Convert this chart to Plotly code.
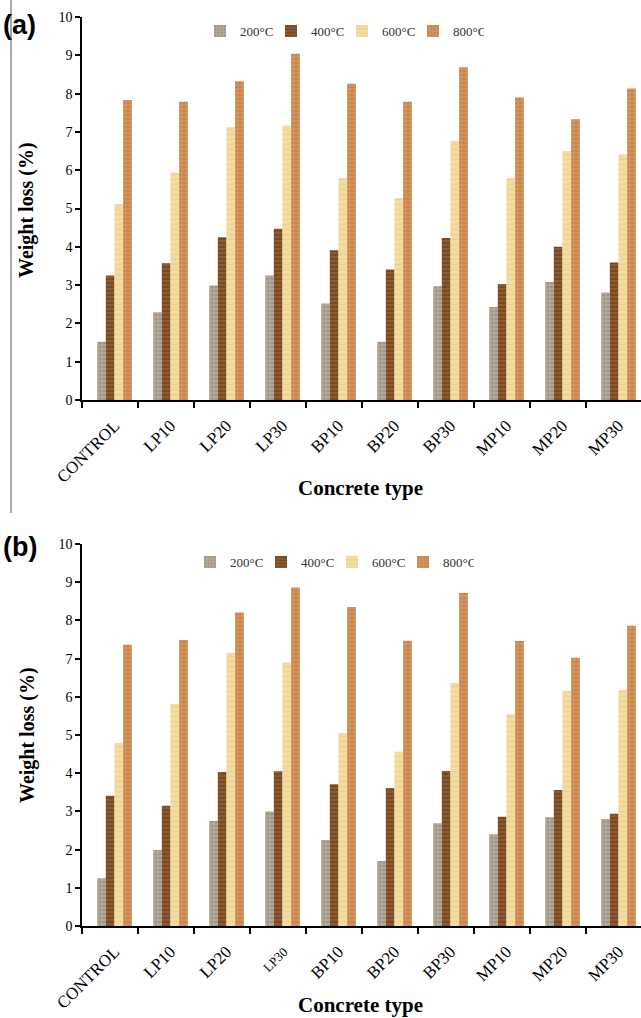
import plotly.graph_objects as go

categories = ["CONTROL", "LP10", "LP20", "LP30", "BP10", "BP20", "BP30", "MP10", "MP20", "MP30"]
temps = ["200°C", "400°C", "600°C", "800°C"]

# Panel (a)
a_200 = [1.52, 2.29, 2.99, 3.25, 2.52, 1.52, 2.97, 2.43, 3.08, 2.81]
a_400 = [3.25, 3.57, 4.25, 4.47, 3.91, 3.41, 4.23, 3.03, 4.00, 3.59]
a_600 = [5.11, 5.94, 7.12, 7.17, 5.79, 5.27, 6.77, 5.79, 6.50, 6.41]
a_800 = [7.83, 7.79, 8.32, 9.04, 8.26, 7.79, 8.69, 7.90, 7.33, 8.13]

# Panel (b)
b_200 = [1.25, 1.99, 2.75, 3.00, 2.25, 1.70, 2.69, 2.40, 2.85, 2.80]
b_400 = [3.41, 3.15, 4.03, 4.05, 3.71, 3.61, 4.06, 2.86, 3.56, 2.94]
b_600 = [4.79, 5.81, 7.15, 6.90, 5.05, 4.56, 6.36, 5.54, 6.15, 6.17]
b_800 = [7.36, 7.49, 8.21, 8.86, 8.35, 7.47, 8.72, 7.46, 7.02, 7.86]

tick_labels_a = categories
tick_labels_b = ["CONTROL", "LP10", "LP20", "<span style='font-size:13px'>LP30</span>",
                 "BP10", "BP20", "BP30", "MP10", "MP20", "MP30"]

styles = [
    dict(color="#b3a899", pattern=dict(shape=".", fgcolor="#857868", size=4, solidity=0.35)),
    dict(color="#8c5a2e", pattern=dict(shape="-", fgcolor="#5a3212", size=4, solidity=0.4)),
    dict(color="#f3dca0", pattern=dict(shape="-", fgcolor="#e2c385", size=5, solidity=0.25)),
    dict(color="#d4925a", pattern=dict(shape=".", fgcolor="#b36e38", size=4, solidity=0.35)),
]

W, H = 641, 1018
L, R, T, B = 82, 0, 17, 92
plot_w = W - L - R
plot_h = H - T - B
cat_px = 56.0
center0_px = 114.5
x0 = -(center0_px - L) / cat_px
x1 = x0 + plot_w / cat_px
xs = list(range(len(categories)))
bounds = [x0 + k for k in range(len(categories) + 1)]

def py(pix):
    return (H - B - pix) / plot_h

def px(pix):
    return (pix - L) / plot_w

fig = go.Figure()
for i, (vals_a, vals_b) in enumerate(zip([a_200, a_400, a_600, a_800], [b_200, b_400, b_600, b_800])):
    fig.add_trace(go.Bar(x=xs, y=vals_a, name=temps[i], marker=dict(styles[i], line=dict(width=0)),
                         xaxis="x", yaxis="y", legend="legend", offsetgroup=str(i)))
    fig.add_trace(go.Bar(x=xs, y=vals_b, name=temps[i], marker=dict(styles[i], line=dict(width=0)),
                         xaxis="x2", yaxis="y2", legend="legend2", offsetgroup=str(i)))

serif = "Liberation Serif, Times New Roman, serif"

xcommon = dict(range=[x0, x1], tickvals=xs, ticks="", showline=True, linecolor="black", linewidth=2,
               tickangle=-45, tickfont=dict(family=serif, size=17, color="black"), showgrid=False,
               zeroline=False, automargin=False, ticklabelstandoff=7,
               minor=dict(tickvals=bounds, ticks="outside", ticklen=6, tickcolor="black", tickwidth=1.5))
ycommon = dict(range=[0, 10], dtick=1, ticks="outside", ticklen=5, tickcolor="black", tickwidth=1.5,
               showline=True, linecolor="black", linewidth=1.5, showgrid=False, zeroline=False,
               automargin=False, tickfont=dict(family=serif, size=14, color="black"))

legend_common = dict(orientation="h", xanchor="left", yanchor="middle",
                     font=dict(family=serif, size=13, color="#333"), bgcolor="rgba(0,0,0,0)",
                     itemwidth=30, entrywidth=26, tracegroupgap=0)

fig.update_layout(
    width=W, height=H,
    margin=dict(l=L, r=R, t=T, b=B, autoexpand=False),
    paper_bgcolor="white", plot_bgcolor="white",
    barmode="group", bargap=0.38, bargroupgap=0,
    xaxis=dict(xcommon, domain=[0, 1], anchor="y", ticktext=tick_labels_a),
    yaxis=dict(ycommon, domain=[py(400), 1], anchor="x"),
    xaxis2=dict(xcommon, domain=[0, 1], anchor="y2", ticktext=tick_labels_b),
    yaxis2=dict(ycommon, domain=[0, py(544)], anchor="x2"),
    legend=dict(legend_common, x=px(200), y=py(31)),
    legend2=dict(legend_common, x=px(190), y=py(562)),
    showlegend=True,
)

annotations = [
    dict(text="<b>(a)</b>", x=px(1), y=py(25), xanchor="left", yanchor="middle",
         font=dict(family="Liberation Sans, Arial, sans-serif", size=27, color="black")),
    dict(text="<b>(b)</b>", x=px(1), y=py(547), xanchor="left", yanchor="middle",
         font=dict(family="Liberation Sans, Arial, sans-serif", size=27, color="black")),
    dict(text="<b>Weight loss (%)</b>", x=px(27), y=py(210), textangle=-90,
         xanchor="center", yanchor="middle", font=dict(family=serif, size=20, color="black")),
    dict(text="<b>Weight loss (%)</b>", x=px(27), y=py(735), textangle=-90,
         xanchor="center", yanchor="middle", font=dict(family=serif, size=20, color="black")),
    dict(text="<b>Concrete type</b>", x=px(360), y=py(488), xanchor="center", yanchor="middle",
         font=dict(family=serif, size=21, color="black")),
    dict(text="<b>Concrete type</b>", x=px(360), y=py(1005), xanchor="center", yanchor="middle",
         font=dict(family=serif, size=21, color="black")),
]
for a in annotations:
    a.update(xref="paper", yref="paper", showarrow=False)
fig.update_layout(annotations=annotations)

fig.add_shape(type="line", xref="paper", yref="paper", x0=px(11), x1=px(11),
              y0=py(0), y1=py(513), line=dict(color="#555", width=1))

fig.write_html("out.html", config={"displayModeBar": False},
               post_script="document.body.style.margin='0';document.body.style.padding='0';")
